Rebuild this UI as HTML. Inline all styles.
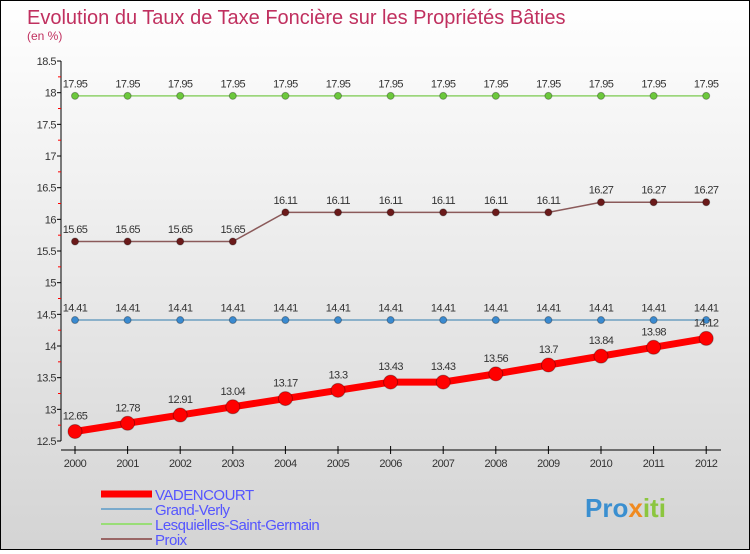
<!DOCTYPE html>
<html><head><meta charset="utf-8"><style>
body{margin:0;width:750px;height:550px;overflow:hidden;font-family:"Liberation Sans",sans-serif}
#wrap{position:relative;width:748px;height:548px;border:1px solid #000;background:linear-gradient(#ffffff,#d4d4d4)}
</style></head><body>
<div id="wrap">
<svg id="chart" width="748" height="548">
<text x="26" y="23" font-size="20" fill="#c0305f">Evolution du Taux de Taxe Foncière sur les Propriétés Bâties</text>
<text x="26" y="39" font-size="12" fill="#c0305f">(en %)</text>
<g id="axes"></g><g id="series"></g><g id="legend"></g>
<text x="584" y="516" font-size="26" font-weight="bold" fill="#3a8fd0">Pro<tspan fill="#f08a20">x</tspan><tspan fill="#8cc63f">iti</tspan></text>
</svg></div>
<script>
const years=[2000,2001,2002,2003,2004,2005,2006,2007,2008,2009,2010,2011,2012];
const vadencourt=[12.65,12.78,12.91,13.04,13.17,13.3,13.43,13.43,13.56,13.7,13.84,13.98,14.12];
const grandVerly=[14.41,14.41,14.41,14.41,14.41,14.41,14.41,14.41,14.41,14.41,14.41,14.41,14.41];
const lesquielles=[17.95,17.95,17.95,17.95,17.95,17.95,17.95,17.95,17.95,17.95,17.95,17.95,17.95];
const proix=[15.65,15.65,15.65,15.65,16.11,16.11,16.11,16.11,16.11,16.11,16.27,16.27,16.27];
const yTicks=[12.5,13,13.5,14,14.5,15,15.5,16,16.5,17,17.5,18,18.5];
const NS="http://www.w3.org/2000/svg";
const X=i=>74+i*52.6, Y=v=>440-(v-12.5)*63.33;
function mk(t,a,p){const e=document.createElementNS(NS,t);for(const k in a)e.setAttribute(k,a[k]);p.appendChild(e);return e;}
const ax=document.getElementById('axes');
let e=mk('line',{x1:60,y1:Y(18.5),x2:60,y2:Y(12.5),stroke:'#000'},ax);


e=mk('line',{x1:60,y1:449,x2:720,y2:449,stroke:'#000'},ax);


yTicks.forEach(v=>{mk('line',{x1:56,x2:60,y1:Y(v),y2:Y(v),stroke:'#000'},ax);
 if(v<18.5)mk('line',{x1:57,x2:60,y1:Y(v+0.25),y2:Y(v+0.25),stroke:'#f00'},ax);
 const t=mk('text',{x:55,y:Y(v)+4,'font-size':11,fill:'#333','text-anchor':'end','letter-spacing':'-0.5'},ax);t.textContent=v;
 
 });
years.forEach((y,i)=>{mk('line',{x1:X(i),x2:X(i),y1:445,y2:453,stroke:'#000'},ax);
 const t=mk('text',{x:X(i),y:466,'font-size':11,fill:'#333','text-anchor':'middle','letter-spacing':'-0.5'},ax);t.textContent=y;
 
 });
const sg=document.getElementById('series');
function draw(vals,col,w,r,name,dot){
 const p=mk('polyline',{points:vals.map((v,i)=>X(i)+','+Y(v)).join(' '),fill:'none',stroke:col,'stroke-width':w},sg);
 
 
 vals.forEach((v,i)=>{const c=mk('circle',{cx:X(i),cy:Y(v),r:r,fill:dot,stroke:'rgba(0,0,0,0.3)'},sg);
  
  
  const t=mk('text',{x:X(i),y:Y(v)-(r+5),'font-size':11,fill:'#333','text-anchor':'middle','letter-spacing':'-0.6'},sg);t.textContent=v;
  
  });
}
draw(lesquielles,'#8fd16a',1.5,3.5,'lesquielles','#6cc83c');
draw(proix,'#8b5a5a',1.5,3.5,'proix','#6b1a1a');
draw(grandVerly,'#6d9fc0',1.5,3.5,'grand-verly','#3a8ad0');
draw(vadencourt,'#f00',7,7,'vadencourt','#f00');
const lg=document.getElementById('legend');
[['VADENCOURT','#f00',7],['Grand-Verly','#7aaacc',2],['Lesquielles-Saint-Germain','#99dd77',2],['Proix','#996666',2]].forEach((d,i)=>{
 const y=493+i*15;
 const l=mk('line',{x1:100,x2:151,y1:y,y2:y,stroke:d[1],'stroke-width':d[2]},lg);
 
 
 const t=mk('text',{x:154,y:y+6,'font-size':15,fill:'#5555ff','letter-spacing':'-0.5'},lg);t.textContent=d[0];
 
 
});
</script>
</body></html>
